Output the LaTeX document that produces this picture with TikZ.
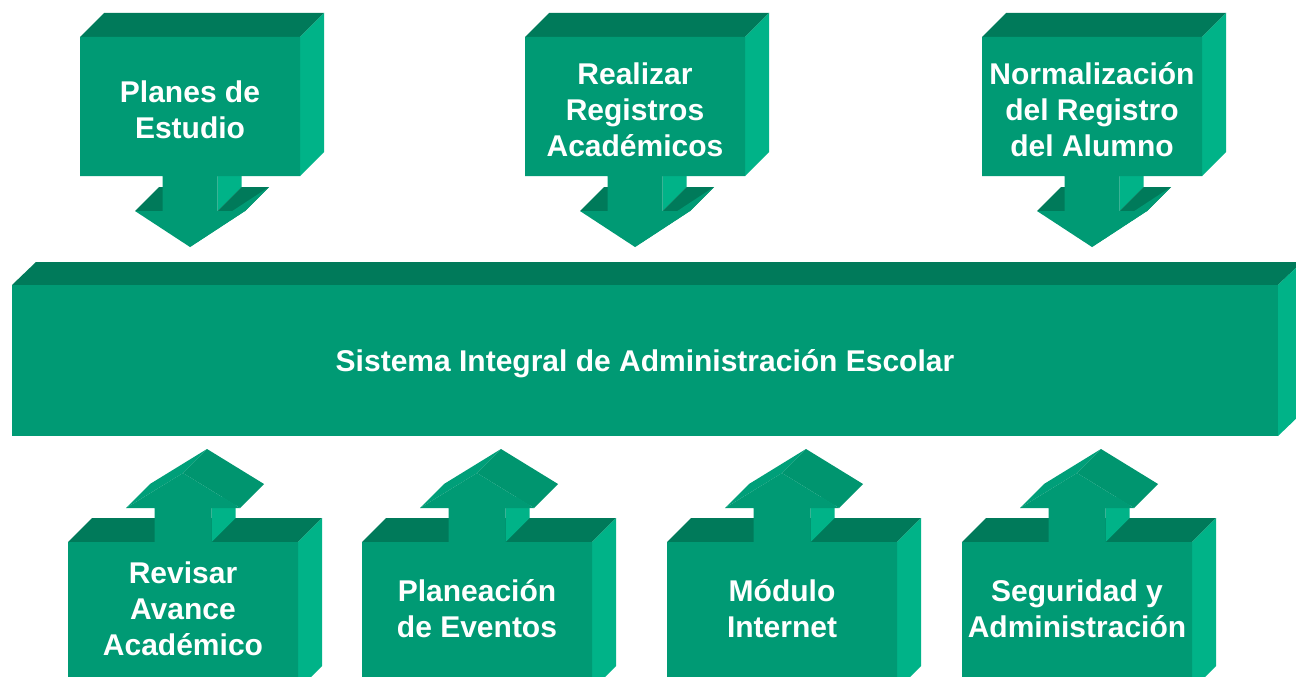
\documentclass[tikz,border=0pt]{standalone}
\usepackage{fontspec}
\setmainfont{Liberation Sans}
\definecolor{cfront}{HTML}{009A74}
\definecolor{cdark}{HTML}{007A5A}
\definecolor{clight}{HTML}{00B388}
\definecolor{cslantL}{HTML}{009F79}
\definecolor{cslantR}{HTML}{00956F}
\tikzset{
  lbl/.style={text=white, align=center, inner sep=0pt,
    font=\bfseries\fontsize{30}{36}\selectfont},
}
\newcommand\TopCallout[3]{%
  \begin{scope}[shift={(#1,0)}]
    \fill[cdark] (-110,37) -- (110,37) -- (134,13) -- (-86,13) -- cycle;
    \fill[clight] (110,37) -- (110,176) -- (134,152) -- (134,13) -- cycle;
    \fill[clight] (27.5,176) -- (27.5,211) -- (51.5,187) -- (51.5,152) -- cycle;
    \fill[cdark] (-55,211) -- (-27.5,211) -- (-3.5,187) -- (-31,187) -- cycle;
    \fill[cdark] (27.5,211) -- (55,211) -- (79,187) -- (51.5,187) -- cycle;
    \fill[cfront] (55,211) -- (79,187) -- (24,223) -- (0,247) -- cycle;
    \fill[cfront] (-110,37) -- (110,37) -- (110,176) -- (27.5,176) -- (27.5,211)
      -- (55,211) -- (0,247) -- (-55,211) -- (-27.5,211) -- (-27.5,176)
      -- (-110,176) -- cycle;
  \end{scope}
  \node[lbl] (#2) at (#1,113) {\strut #3\strut};
}
\newcommand\BotCallout[3]{%
  \begin{scope}[shift={(#1,0)}]
    \fill[cdark] (-115,542) -- (115,542) -- (139,518) -- (-91,518) -- cycle;
    \fill[clight] (115,542) -- (115,690) -- (139,666) -- (139,518) -- cycle;
    \fill[clight] (28.5,508) -- (28.5,542) -- (52.5,518) -- (52.5,484) -- cycle;
    \fill[cslantL] (-57,508) -- (0,473) -- (24,449) -- (-33,484) -- cycle;
    \fill[cslantR] (0,473) -- (57,508) -- (81,484) -- (24,449) -- cycle;
    \fill[cfront] (-115,690) -- (-115,542) -- (-28.5,542) -- (-28.5,508)
      -- (-57,508) -- (0,473) -- (57,508) -- (28.5,508) -- (28.5,542)
      -- (115,542) -- (115,690) -- cycle;
  \end{scope}
  \node[lbl] (#2) at (#1,612.5) {\strut #3\strut};
}
\begin{document}
\begin{tikzpicture}[x=1pt,y=-1pt]
  \useasboundingbox (0,0) rectangle (1296,677);
  \clip (0,0) rectangle (1296,677);
  \fill[white] (0,0) rectangle (1296,677);
  % central bar
  \fill[cdark] (12,285) -- (1278,285) -- (1302,262) -- (36,262) -- cycle;
  \fill[clight] (1278,285) -- (1278,436) -- (1302,413) -- (1302,262) -- cycle;
  \fill[cfront] (12,285) rectangle (1278,436);
  \node[lbl] (sistema) at (645,364) {\strut Sistema Integral de Administración Escolar};
  % top callouts
  \TopCallout{190}{planes}{Planes de\\Estudio}
  \TopCallout{635}{realizar}{Realizar\\Registros\\Académicos}
  \TopCallout{1092}{normal}{Normalización\\del Registro\\del Alumno}
  % bottom callouts
  \BotCallout{183}{revisar}{Revisar\\Avance\\Académico}
  \BotCallout{477}{planea}{Planeación\\de Eventos}
  \BotCallout{782}{modulo}{Módulo\\Internet}
  \BotCallout{1077}{seguridad}{Seguridad y\\Administración}
\end{tikzpicture}
\end{document}
